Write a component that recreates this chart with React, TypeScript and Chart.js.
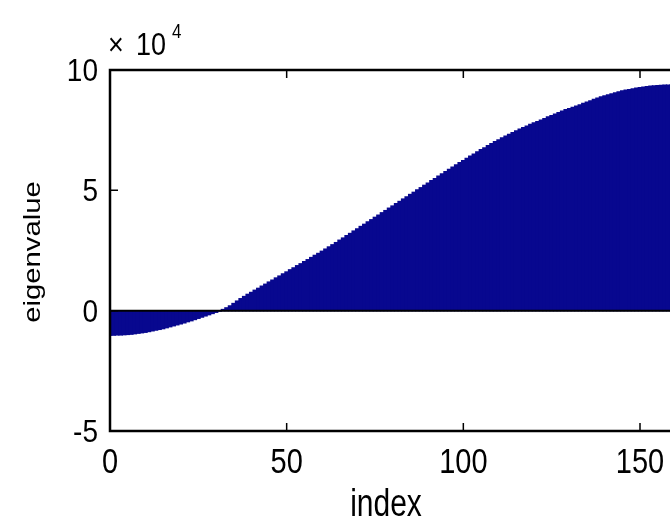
import React, { useEffect, useRef } from "react";
import { Chart, registerables } from "chart.js";

Chart.register(...registerables);

// eigenvalues in units of 10^4, index 0..159
const eigenvalues: number[] = [
  -1.02, -1.02, -1.01, -1.01, -1.0, -0.99, -0.98, -0.96, -0.94, -0.92,
  -0.9, -0.87, -0.84, -0.81, -0.78, -0.75, -0.71, -0.67, -0.63, -0.59,
  -0.55, -0.51, -0.46, -0.42, -0.37, -0.32, -0.27, -0.22, -0.17, -0.12,
  -0.07,
  -0.02, 0.05, 0.12, 0.2, 0.3, 0.4, 0.5, 0.59, 0.68, 0.76,
  0.85, 0.93, 1.02, 1.1, 1.19, 1.27, 1.36, 1.44, 1.53, 1.61,
  1.7, 1.78, 1.87, 1.95, 2.04, 2.12, 2.21, 2.3, 2.38, 2.47,
  2.56, 2.65,
  2.74, 2.83, 2.93, 3.02, 3.12, 3.21, 3.31, 3.4, 3.5, 3.59,
  3.69, 3.78, 3.88, 3.97, 4.07, 4.16, 4.26, 4.35, 4.45, 4.54,
  4.64, 4.73, 4.83, 4.92, 5.02, 5.11, 5.21, 5.3, 5.4, 5.49,
  5.59, 5.68, 5.78, 5.87, 5.97, 6.06,
  6.15, 6.24, 6.33, 6.42, 6.51, 6.6, 6.69, 6.77, 6.86, 6.94,
  7.02, 7.1, 7.18, 7.25, 7.33, 7.4, 7.47, 7.54, 7.61, 7.67,
  7.74, 7.8, 7.86, 7.92, 7.98,
  8.05, 8.11, 8.17, 8.23, 8.29, 8.35, 8.4, 8.45, 8.5, 8.55,
  8.61, 8.67, 8.72, 8.78, 8.83, 8.88, 8.93, 8.97, 9.01, 9.05,
  9.09, 9.13, 9.16, 9.19, 9.22, 9.25, 9.27, 9.29, 9.31, 9.33,
  9.34, 9.35, 9.36, 9.37, 9.37, 9.38,
];

const xTicks: number[] = [0, 50, 100, 150];
const yTicks: number[] = [-5, 0, 5, 10];
const yTickLabels: string[] = ["-5", "0", "5", "10"];
const exponentBase = "10";
const exponentPower = "4";
const xTitle = "index";
const yTitle = "eigenvalue";

const FONT = '"Liberation Sans", Arial, Helvetica, sans-serif';

function drawText(
  ctx: CanvasRenderingContext2D,
  text: string,
  x: number,
  y: number,
  size: number,
  align: CanvasTextAlign,
  sx: number,
  sy: number,
  rot = 0
) {
  ctx.save();
  ctx.translate(x, y);
  if (rot) ctx.rotate(rot);
  ctx.scale(sx, sy);
  ctx.font = `${size}px ${FONT}`;
  ctx.textAlign = align;
  ctx.textBaseline = "alphabetic";
  ctx.fillStyle = "#000";
  ctx.fillText(text, 0, 0);
  ctx.restore();
}

const matlabAxes = {
  id: "matlabAxes",
  afterDatasetsDraw(chart: any) {
    const ctx: CanvasRenderingContext2D = chart.ctx;
    const area = chart.chartArea;
    const xs = chart.scales.x;
    const ys = chart.scales.y;
    ctx.save();
    ctx.strokeStyle = "#000";
    // bar baseline at zero
    const y0 = ys.getPixelForValue(0);
    ctx.lineWidth = 2;
    ctx.beginPath();
    ctx.moveTo(area.left, y0);
    ctx.lineTo(area.right, y0);
    ctx.stroke();
    // frame
    ctx.lineWidth = 2.5;
    ctx.beginPath();
    ctx.moveTo(area.right, area.top);
    ctx.lineTo(area.left, area.top);
    ctx.lineTo(area.left, area.bottom);
    ctx.lineTo(area.right, area.bottom);
    ctx.stroke();
    // ticks (inward)
    ctx.lineWidth = 1.5;
    const tl = 8;
    ctx.beginPath();
    xTicks.forEach((v) => {
      const px = xs.getPixelForValue(v);
      ctx.moveTo(px, area.bottom);
      ctx.lineTo(px, area.bottom - tl);
      ctx.moveTo(px, area.top);
      ctx.lineTo(px, area.top + tl);
    });
    yTicks.forEach((v) => {
      const py = ys.getPixelForValue(v);
      ctx.moveTo(area.left, py);
      ctx.lineTo(area.left + tl, py);
    });
    ctx.stroke();
    ctx.restore();

    // tick labels
    xTicks.forEach((v) => {
      drawText(ctx, String(v), xs.getPixelForValue(v), 473, 29, "center", 1, 1.2);
    });
    yTicks.forEach((v, i) => {
      drawText(ctx, yTickLabels[i], 98, ys.getPixelForValue(v) + 11, 28, "right", 1, 1.1);
    });
    // exponent
    drawText(ctx, "\u00d7", 108, 55, 27, "left", 1, 1.14);
    drawText(ctx, exponentBase, 136, 55, 27, "left", 1, 1.14);
    drawText(ctx, exponentPower, 172, 38, 17, "left", 1, 1.2);
    // axis titles
    drawText(ctx, xTitle, 386, 516, 30, "center", 1, 1.3);
    drawText(ctx, yTitle, 40, 252, 24, "center", 1.22, 1, -Math.PI / 2);
  },
};

export default function App() {
  const ref = useRef<HTMLCanvasElement | null>(null);
  useEffect(() => {
    if (!ref.current) return;
    const chart = new Chart(ref.current, {
      type: "bar",
      data: {
        datasets: [
          {
            data: eigenvalues.map((v, i) => ({ x: i, y: v })),
            backgroundColor: "#08088f",
            borderWidth: 0,
            barPercentage: 1,
            categoryPercentage: 1,
            inflateAmount: 0.6,
          } as any,
        ],
      },
      options: {
        responsive: false,
        animation: false,
        events: [],
        layout: { padding: { left: 110, top: 70, right: 14, bottom: 87 } },
        plugins: { legend: { display: false }, tooltip: { enabled: false } },
        scales: {
          x: { type: "linear", min: 0, max: 180, display: false, offset: false },
          y: { type: "linear", min: -5, max: 10, display: false },
        },
      },
      plugins: [matlabAxes],
    });
    return () => chart.destroy();
  }, []);
  return (
    <div
      style={{
        position: "fixed",
        left: 0,
        top: 0,
        width: 670,
        height: 518,
        overflow: "hidden",
        background: "#fff",
      }}
    >
      <canvas ref={ref} width={760} height={518} style={{ width: 760, height: 518, display: "block" }} />
    </div>
  );
}
